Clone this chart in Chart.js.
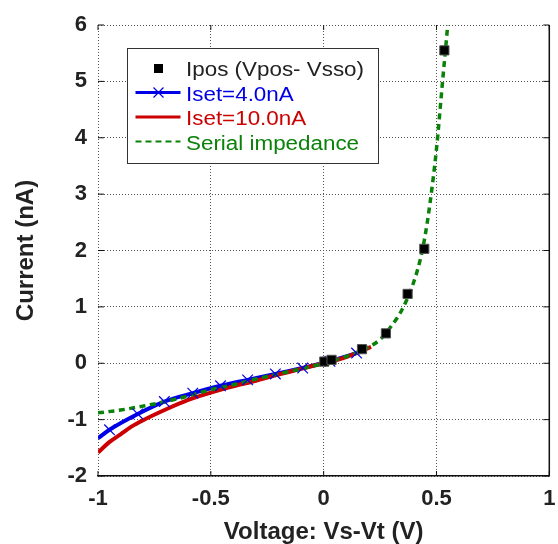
<!DOCTYPE html>
<html lang="en">
<head>
<meta charset="utf-8" />
<title>Current vs voltage</title>
<script src="https://cdn.jsdelivr.net/npm/chart.js@4.4.1/dist/chart.umd.min.js"></script>
<style>
  html, body { margin: 0; padding: 0; background: #fff; }
  #chartDiv { width: 558px; height: 544px; }
</style>
</head>
<body>
<div id="chartDiv"><canvas id="ivChart" width="558" height="544"></canvas></div>
<script>
// measured points (black squares)
const iposV = [0.003, 0.035, 0.17, 0.276, 0.372, 0.446, 0.535];
const iposI = [0.03, 0.06, 0.25, 0.53, 1.23, 2.03, 5.55];

// Iset = 4.0nA curve (markers on all but the two ends)
const blueV = [-1, -0.949, -0.824, -0.706, -0.58, -0.457, -0.337, -0.214, -0.093, 0.028, 0.146, 0.17];
const blueI = [-1.33, -1.18, -0.90, -0.68, -0.53, -0.40, -0.295, -0.19, -0.085, 0.035, 0.18, 0.21];

// Iset = 10.0nA curve
const redV = [-1, -0.95, -0.9, -0.85, -0.8, -0.7, -0.6, -0.5, -0.4, -0.3, -0.2, -0.1, 0, 0.1, 0.21];
const redI = [-1.585, -1.40, -1.26, -1.12, -1.01, -0.82, -0.65, -0.52, -0.41, -0.31, -0.20, -0.10, 0, 0.11, 0.29];

// serial impedance fit
const serialV = [-1, -0.9, -0.8, -0.7, -0.6, -0.5, -0.4, -0.3, -0.2, -0.1, 0, 0.1, 0.2, 0.25, 0.3, 0.35, 0.4, 0.43, 0.45, 0.47, 0.5, 0.527, 0.552, 0.558];
const serialI = [-0.88, -0.83, -0.76, -0.68, -0.58, -0.47, -0.38, -0.28, -0.19, -0.10, 0, 0.12, 0.29, 0.42, 0.66, 0.97, 1.45, 1.87, 2.27, 2.8, 3.8, 5.0, 6.1, 6.4];

const xTicks = [-1, -0.5, 0, 0.5, 1];
const yTicks = [-2, -1, 0, 1, 2, 3, 4, 5, 6];
const legendLabels = ["Ipos (Vpos- Vsso)", "Iset=4.0nA", "Iset=10.0nA", "Serial impedance"];

const blue = "#0000e6";
const red = "#cc0000";
const green = "#0a820a";
const ink = "#222";

Chart.defaults.font.family = "'Liberation Sans', Arial, Helvetica, sans-serif";

function toXY(xs, ys) {
  return xs.map((x, i) => ({ x: x, y: ys[i] }));
}

// MATLAB-ish frame: right edge plus inward tick marks
const frame = {
  id: "frame",
  afterDatasetsDraw(chart) {
    const { ctx, chartArea: a, scales } = chart;
    ctx.save();
    ctx.strokeStyle = "#111";
    ctx.lineWidth = 1.5;
    ctx.beginPath();
    ctx.moveTo(a.right, a.top);
    ctx.lineTo(a.right, a.bottom);
    ctx.stroke();
    ctx.lineWidth = 1;
    ctx.beginPath();
    xTicks.forEach(v => {
      const px = scales.x.getPixelForValue(v);
      ctx.moveTo(px, a.bottom); ctx.lineTo(px, a.bottom - 5);
      ctx.moveTo(px, a.top); ctx.lineTo(px, a.top + 5);
    });
    yTicks.forEach(v => {
      const py = scales.y.getPixelForValue(v);
      ctx.moveTo(a.left, py); ctx.lineTo(a.left + 6, py);
      ctx.moveTo(a.right, py); ctx.lineTo(a.right - 6, py);
    });
    ctx.stroke();
    ctx.restore();
  }
};

// legend box inside the plot, upper left
const boxLegend = {
  id: "boxLegend",
  afterDraw(chart) {
    const { ctx, chartArea: a } = chart;
    const x0 = Math.round(a.left + 29) + 0.5, y0 = Math.round(a.top + 23) + 0.5;
    const w = 251, h = 115;
    ctx.save();
    ctx.fillStyle = "#fff";
    ctx.fillRect(x0, y0, w, h);
    ctx.strokeStyle = "#333";
    ctx.lineWidth = 1;
    ctx.strokeRect(x0, y0, w, h);

    const colors = [ink, blue, red, green];
    const baselines = [27, 52, 76.5, 101];
    baselines.forEach((b, i) => {
      const ly = y0 + b - 8;
      ctx.save();
      if (i === 0) {
        ctx.fillStyle = "#000";
        ctx.fillRect(x0 + 26.5, y0 + b - 11.5, 9, 9);
      } else {
        ctx.strokeStyle = colors[i];
        ctx.lineWidth = i === 3 ? 2 : 3;
        if (i === 3) ctx.setLineDash([6, 4]);
        ctx.beginPath();
        ctx.moveTo(x0 + 8, ly);
        ctx.lineTo(x0 + 53, ly);
        ctx.stroke();
        if (i === 1) {
          ctx.setLineDash([]);
          ctx.lineWidth = 1.2;
          ctx.beginPath();
          ctx.moveTo(x0 + 26, ly - 5); ctx.lineTo(x0 + 36, ly + 5);
          ctx.moveTo(x0 + 26, ly + 5); ctx.lineTo(x0 + 36, ly - 5);
          ctx.stroke();
        }
      }
      ctx.restore();
      ctx.save();
      ctx.translate(x0 + 58.5, y0 + b);
      ctx.scale(1.12, 1);
      ctx.font = "20px 'Liberation Sans', Arial, sans-serif";
      ctx.textBaseline = "alphabetic";
      ctx.fillStyle = colors[i];
      ctx.fillText(legendLabels[i], 0, 0);
      ctx.restore();
    });
    ctx.restore();
  }
};

const lineBase = { pointRadius: 0, cubicInterpolationMode: "monotone", fill: false };

new Chart(document.getElementById("ivChart"), {
  type: "line",
  data: {
    datasets: [
      {
        label: legendLabels[0], data: toXY(iposV, iposI), showLine: false,
        pointStyle: "rect", pointRadius: 6.5, pointBackgroundColor: "#000",
        pointBorderColor: "#555", pointBorderWidth: 1, order: 0
      },
      {
        label: legendLabels[1] + " markers", data: toXY(blueV, blueI).slice(1, -1), showLine: false,
        pointStyle: "crossRot", pointRadius: 7.5, pointBorderColor: blue,
        pointBackgroundColor: blue, pointBorderWidth: 1.2, order: 1
      },
      Object.assign({
        label: legendLabels[3], data: toXY(serialV, serialI), borderColor: green,
        borderWidth: 3.5, borderDash: [6, 4.5], order: 2
      }, lineBase),
      Object.assign({
        label: legendLabels[2], data: toXY(redV, redI), borderColor: red,
        borderWidth: 4, order: 3
      }, lineBase),
      Object.assign({
        label: legendLabels[1], data: toXY(blueV, blueI), borderColor: blue,
        borderWidth: 4, order: 4
      }, lineBase)
    ]
  },
  options: {
    responsive: false,
    animation: false,
    layout: { padding: { top: 25, right: 8, left: 0, bottom: 0 } },
    plugins: { legend: { display: false }, tooltip: { enabled: false } },
    scales: {
      x: {
        type: "linear", min: -1, max: 1,
        afterBuildTicks: s => { s.ticks = xTicks.map(v => ({ value: v })); },
        afterFit: s => { s.height = 68; s.paddingLeft = 0; s.paddingRight = 0; },
        ticks: {
          font: { size: 22, weight: "bold" }, color: ink, padding: 10, maxRotation: 0,
          callback: v => String(v)
        },
        grid: { drawTicks: false, color: "#555", lineWidth: 1 },
        border: { display: true, color: "#111", width: 1.5, dash: [1, 2] },
        title: {
          display: true, text: "Voltage: Vs-Vt (V)", color: ink,
          font: { size: 24, weight: "bold", lineHeight: 1 }, padding: { top: 0, bottom: 0 }
        }
      },
      y: {
        type: "linear", min: -2, max: 6,
        afterBuildTicks: s => { s.ticks = yTicks.map(v => ({ value: v })); },
        afterFit: s => { s.width = 98; s.paddingTop = 0; s.paddingBottom = 0; },
        ticks: { font: { size: 22, weight: "bold" }, color: ink, padding: 11, callback: v => String(v) },
        grid: { drawTicks: false, color: "#555", lineWidth: 1 },
        border: { display: false, dash: [1, 2] },
        title: {
          display: true, text: "Current (nA)", color: ink,
          font: { size: 24, weight: "bold", lineHeight: 1 }, padding: { top: 14, bottom: 0 }
        }
      }
    }
  },
  plugins: [frame, boxLegend]
});
</script>
</body>
</html>
